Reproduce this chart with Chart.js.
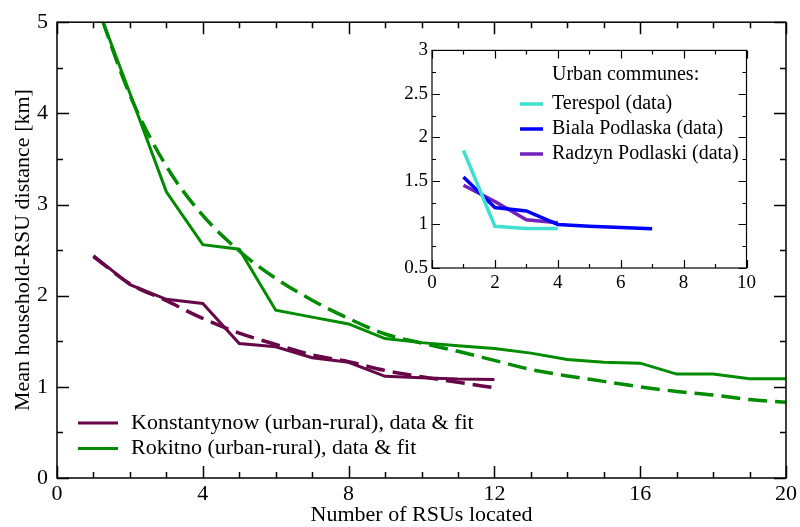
<!DOCTYPE html>
<html><head><meta charset="utf-8">
<script src="https://cdn.jsdelivr.net/npm/chart.js@4/dist/chart.umd.min.js"></script>
<style>
html,body{margin:0;padding:0;background:#fff;}
#wrap{position:relative;width:800px;height:527px;overflow:hidden;}
#main{position:absolute;left:0;top:0;}
#inset{position:absolute;left:380px;top:35px;}
</style></head><body>
<div id="wrap"><canvas id="main" width="800" height="527"></canvas><canvas id="inset" width="380" height="270"></canvas></div>
<script>
// ---- main chart data ----
const rsuKonst = [1,2,3,4,5,6,7,8,9,10,11,12];
const konstData = [2.44,2.12,1.96,1.915,1.475,1.44,1.32,1.27,1.115,1.10,1.085,1.08];
const konstFit  = [2.43,2.13,1.945,1.75,1.59,1.465,1.35,1.275,1.18,1.11,1.05,0.99];
const rsuRok = [1,2,3,4,5,6,7,8,9,10,11,12,13,14,15,16,17,18,19,20];
const rokData = [5.28,4.22,3.14,2.56,2.51,1.84,1.765,1.69,1.53,1.485,1.45,1.42,1.37,1.30,1.27,1.26,1.14,1.14,1.09,1.09];
const rokFit  = [5.3,4.2,3.42,2.88,2.49,2.19,1.95,1.75,1.58,1.48,1.39,1.29,1.19,1.12,1.06,1.00,0.95,0.91,0.86,0.83];
const mainXTicks = [0,4,8,12,16,20];
const mainXMinor = [1,2,3,5,6,7,9,10,11,13,14,15,17,18,19];
const mainYTicks = [0,1,2,3,4,5];
const mainYMinor = [0.5,1.5,2.5,3.5,4.5];
const mainLegend = ['Konstantynow (urban-rural), data & fit','Rokitno (urban-rural), data & fit'];

// ---- inset data ----
const rsuTerespol = [1,2,3,4];
const terespolData = [1.85,0.98,0.955,0.955];
const rsuBiala = [1,2,3,4,5,6,7];
const bialaData = [1.545,1.195,1.155,1.0,0.98,0.965,0.95];
const rsuRadzyn = [1,2,3,4];
const radzynData = [1.45,1.265,1.055,1.02];
const insetXTicks = [0,2,4,6,8,10];
const insetXMinor = [1,3,5,7,9];
const insetYTicks = [0.5,1,1.5,2,2.5,3];
const insetYMinor = [0.75,1.25,1.75,2.25,2.75];
const insetTitle = 'Urban communes:';
const insetLegend = ['Terespol (data)','Biala Podlaska (data)','Radzyn Podlaski (data)'];

const MAROON = 'rgb(103,7,72)';
const GREEN = 'rgb(0,139,0)';
const TURQ = 'rgb(64,224,208)';
const BLUE = 'rgb(0,0,255)';
const INDIGO = 'rgb(114,33,188)';
const SERIF = "'Liberation Serif', 'DejaVu Serif', serif";

const pts = (xs, ys) => xs.map((x,i)=>({x:x, y:ys[i]}));

function frameTicks(id, xMaj, xMin, yMaj, yMin, majLen, minLen, lw) {
  return {
    id: id,
    afterDatasetsDraw(chart) {
      const {ctx, chartArea:a, scales} = chart;
      ctx.save();
      ctx.strokeStyle = '#000';
      ctx.lineWidth = lw;
      ctx.strokeRect(a.left, a.top, a.right-a.left, a.bottom-a.top);
      ctx.beginPath();
      const xs = scales.x, ys = scales.y;
      const vx = (vals, len) => vals.forEach(v => {
        const p = Math.round(xs.getPixelForValue(v)) + 0.5;
        ctx.moveTo(p, a.bottom); ctx.lineTo(p, a.bottom - len);
        ctx.moveTo(p, a.top); ctx.lineTo(p, a.top + len);
      });
      const vy = (vals, len) => vals.forEach(v => {
        const p = Math.round(ys.getPixelForValue(v)) + 0.5;
        ctx.moveTo(a.left, p); ctx.lineTo(a.left + len, p);
        ctx.moveTo(a.right, p); ctx.lineTo(a.right - len, p);
      });
      vx(xMaj, majLen); vx(xMin, minLen); vy(yMaj, majLen); vy(yMin, minLen);
      ctx.stroke();
      ctx.restore();
    }
  };
}

function legendPlugin(id, items, opt) {
  return {
    id: id,
    afterDraw(chart) {
      const ctx = chart.ctx;
      ctx.save();
      ctx.font = opt.font;
      ctx.textBaseline = 'middle';
      ctx.textAlign = 'left';
      ctx.fillStyle = '#000';
      if (opt.title) ctx.fillText(opt.title, opt.textX, opt.titleY);
      items.forEach((it, i) => {
        const y = opt.y0 + i * opt.dy;
        ctx.strokeStyle = it.color;
        ctx.lineWidth = opt.lw;
        ctx.setLineDash([]);
        ctx.beginPath(); ctx.moveTo(opt.x0, y); ctx.lineTo(opt.x1, y); ctx.stroke();
        ctx.fillStyle = '#000';
        ctx.fillText(it.label, opt.textX, y);
      });
      ctx.restore();
    }
  };
}

function axisCommon(min, max, ticksArr, fontSize, pad) {
  return {
    type: 'linear', min: min, max: max,
    afterBuildTicks: s => { s.ticks = ticksArr.map(v => ({value: v})); },
    grid: {display: false, drawTicks: false},
    border: {display: false},
    ticks: {color: '#000', font: {family: SERIF, size: fontSize}, padding: pad, autoSkip: false, maxRotation: 0,
      callback: v => String(v)}
  };
}

const mainX = axisCommon(0, 20, mainXTicks, 22, 3);
mainX.afterFit = s => { s.height = 49; };
mainX.title = {display: true, text: 'Number of RSUs located', color: '#000', font: {family: SERIF, size: 22}, padding: {top: 0, bottom: -1}};
const mainY = axisCommon(0, 5, mainYTicks, 22, 9);
mainY.afterFit = s => { s.width = 57; };
mainY.title = {display: true, text: 'Mean household-RSU distance [km]', color: '#000', font: {family: SERIF, size: 22}, padding: {top: 10, bottom: 0}};

new Chart(document.getElementById('main'), {
  type: 'line',
  data: {datasets: [
    {data: pts(rsuRok, rokFit), borderColor: GREEN, borderWidth: 3.5, borderDash: [19, 8], cubicInterpolationMode: 'monotone', clip: 0},
    {data: pts(rsuRok, rokData), borderColor: GREEN, borderWidth: 3, tension: 0, clip: 0},
    {data: pts(rsuKonst, konstFit), borderColor: MAROON, borderWidth: 3.5, borderDash: [19, 8], cubicInterpolationMode: 'monotone', clip: 0},
    {data: pts(rsuKonst, konstData), borderColor: MAROON, borderWidth: 3, tension: 0, clip: 0}
  ]},
  options: {
    responsive: false, animation: false, devicePixelRatio: 1,
    layout: {padding: {top: 16, right: 13, left: 0, bottom: 0}},
    elements: {point: {radius: 0}},
    plugins: {legend: {display: false}, tooltip: {enabled: false}},
    scales: {x: mainX, y: mainY}
  },
  plugins: [
    frameTicks('mainFrame', mainXTicks, mainXMinor, mainYTicks, mainYMinor, 12, 6, 1.5),
    legendPlugin('mainLegend', [{label: mainLegend[0], color: MAROON}, {label: mainLegend[1], color: GREEN}],
      {font: '22px ' + SERIF, x0: 78, x1: 118, textX: 131, y0: 423, dy: 25.5, lw: 3})
  ]
});

const inX = axisCommon(0, 10, insetXTicks, 19, 4);
inX.afterFit = s => { s.height = 37; };
const inY = axisCommon(0.5, 3, insetYTicks, 19, 4);
inY.afterFit = s => { s.width = 52; };

new Chart(document.getElementById('inset'), {
  type: 'line',
  data: {datasets: [
    {data: pts(rsuTerespol, terespolData), borderColor: TURQ, borderWidth: 3.5, tension: 0, clip: 0},
    {data: pts(rsuBiala, bialaData), borderColor: BLUE, borderWidth: 3.5, tension: 0, clip: 0},
    {data: pts(rsuRadzyn, radzynData), borderColor: INDIGO, borderWidth: 3.5, tension: 0, clip: 0}
  ]},
  options: {
    responsive: false, animation: false, devicePixelRatio: 1,
    layout: {padding: {top: 15, right: 11, left: 0, bottom: 0}},
    elements: {point: {radius: 0}},
    plugins: {legend: {display: false}, tooltip: {enabled: false}},
    scales: {x: inX, y: inY}
  },
  plugins: [
    frameTicks('insetFrame', insetXTicks, insetXMinor, insetYTicks, insetYMinor, 8, 4, 1.2),
    legendPlugin('insetLegend', [{label: insetLegend[0], color: TURQ}, {label: insetLegend[1], color: BLUE}, {label: insetLegend[2], color: INDIGO}],
      {font: '20px ' + SERIF, title: insetTitle, titleY: 40, x0: 140, x1: 163, textX: 172, y0: 69, dy: 25, lw: 3.5})
  ]
});
</script>
</body></html>
